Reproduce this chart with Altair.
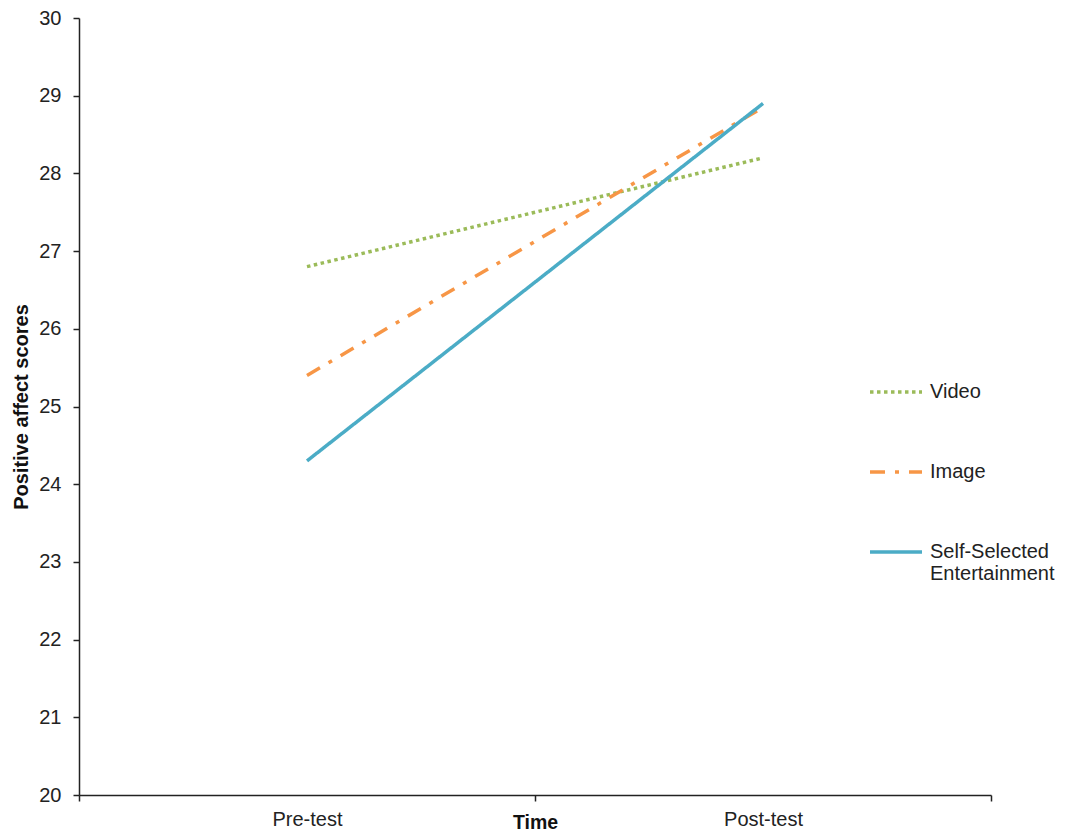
import altair as alt
import pandas as pd

times = ["Pre-test", "Post-test"]
groups = ["Video", "Image", "Self-Selected Entertainment"]
video = [26.8, 28.2]
image = [25.4, 28.85]
self_selected = [24.3, 28.9]

colors = ["#9BBB59", "#F79646", "#4BACC6"]
dashes = [[3.5, 3.5], [15, 10, 4, 10], [1, 0]]

rows = []
for g, vals in zip(groups, [video, image, self_selected]):
    for t, v in zip(times, vals):
        rows.append({"Time": t, "Group": g, "Score": v})
df = pd.DataFrame(rows)

font = "Liberation Sans"

chart = alt.Chart(df).mark_line(strokeWidth=3.5, strokeCap="butt").encode(
    x=alt.X("Time:N", sort=times, bandPosition=0.5,
            scale=alt.Scale(type="band", paddingInner=0, paddingOuter=0),
            axis=alt.Axis(title="Time", labelAngle=0, tickBand="extent",
                          labelFontSize=20, labelColor="#222", labelPadding=8,
                          titleFontSize=19.5, titleFontWeight="bold", titleColor="#111",
                          titleY=33, titleBaseline="alphabetic",
                          tickSize=6, domainColor="#222", tickColor="#222",
                          domainWidth=1.5, tickWidth=1.5)),
    y=alt.Y("Score:Q", scale=alt.Scale(domain=[20, 30], nice=False, zero=False),
            axis=alt.Axis(title="Positive affect scores", values=list(range(20, 31)),
                          grid=False, labelFontSize=20, labelColor="#222", labelPadding=12,
                          titleFontSize=20, titleFontWeight="bold", titleColor="#111",
                          titleX=-58, titleBaseline="middle", titleAngle=-90,
                          tickSize=6, domainColor="#222", tickColor="#222",
                          domainWidth=1.5, tickWidth=1.5)),
    color=alt.Color("Group:N", sort=groups,
                    scale=alt.Scale(domain=groups, range=colors),
                    legend=alt.Legend(title=None, orient="none", legendX=789, legendY=346,
                                      symbolType="stroke", symbolSize=2704,
                                      symbolStrokeWidth=3.5, labelFontSize=20,
                                      labelColor="#222", rowPadding=42, labelOffset=6,
                                      labelLimit=300,
                                      labelExpr="datum.label == 'Self-Selected Entertainment' ? ['Self-Selected', 'Entertainment'] : datum.label")),
    strokeDash=alt.StrokeDash("Group:N", sort=groups,
                              scale=alt.Scale(domain=groups, range=dashes),
                              legend=None),
).properties(
    width=912, height=777,
    autosize=alt.AutoSizeParams(type="none"),
    padding={"left": 71, "top": 10, "right": 67, "bottom": 36},
).configure(font=font).configure_view(stroke=None)

chart.save("out.html", embed_options={"renderer": "svg", "actions": False})
